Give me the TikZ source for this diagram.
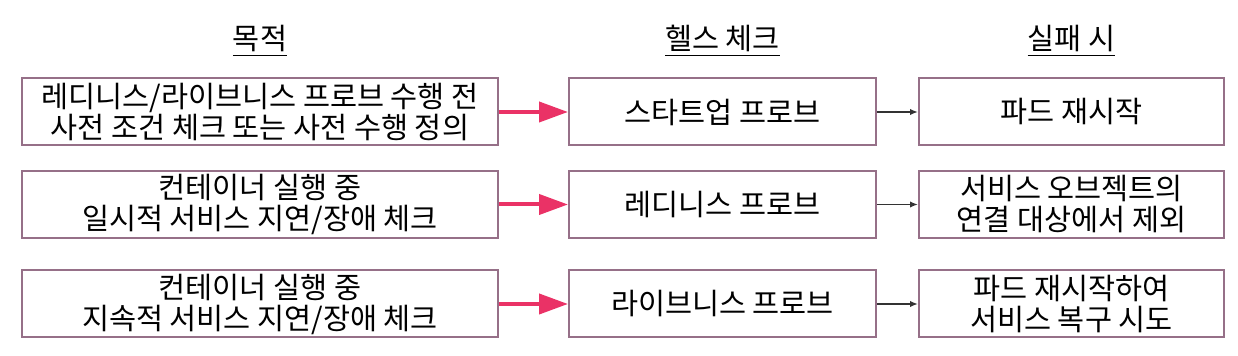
\documentclass[tikz,border=0pt]{standalone}
\usepackage{fontspec}
\setmainfont{Noto Sans CJK KR}
\usetikzlibrary{arrows.meta}
\definecolor{boxline}{RGB}{150,112,136}
\definecolor{probepink}{RGB}{234,50,102}

\begin{document}
\begin{tikzpicture}[x=0.5pt,y=-0.5pt,>=Stealth,
  box/.style={draw=boxline,line width=1pt,inner sep=0pt,minimum height=33.5pt,
    align=center,font=\fontsize{14.7}{15.5}\selectfont},
  head/.style={anchor=base,inner sep=0pt,font=\fontsize{14.7}{15.5}\selectfont},
  bigarrow/.style={probepink,line width=2pt,-{Triangle[length=14.5pt,width=10pt]}},
  smallarrow/.style={black!80,line width=0.9pt,-{Latex[length=4pt,width=3.2pt]}}]
  % canvas: 1238 x 356 px, y grows downward
  \useasboundingbox (0,0) rectangle (1238,356);
  % column headers
  \node[head] (hgoal)  at (260,50)    {\underline{목적}};
  \node[head] (hcheck) at (722.5,50)  {\underline{헬스 체크}};
  \node[head] (hfail)  at (1071.5,50) {\underline{실패 시}};
  % purpose column
  \node[box,minimum width=238pt] (goal1) at (260,112)
    {레디니스/라이브니스 프로브 수행 전\\사전 조건 체크 또는 사전 수행 정의};
  \node[box,minimum width=238pt] (goal2) at (260,204.5)
    {컨테이너 실행 중\\일시적 서비스 지연/장애 체크};
  \node[box,minimum width=238pt] (goal3) at (260,304)
    {컨테이너 실행 중\\지속적 서비스 지연/장애 체크};
  % probe column
  \node[box,minimum width=153.5pt] (probe1) at (722.5,112)   {스타트업 프로브};
  \node[box,minimum width=153.5pt] (probe2) at (722.5,204.5) {레디니스 프로브};
  \node[box,minimum width=153.5pt] (probe3) at (722.5,304)   {라이브니스 프로브};
  % on failure column
  \node[box,minimum width=152.5pt] (fail1) at (1071.5,112)   {파드 재시작};
  \node[box,minimum width=152.5pt] (fail2) at (1071.5,204.5) {서비스 오브젝트의\\연결 대상에서 제외};
  \node[box,minimum width=152.5pt] (fail3) at (1071.5,304)   {파드 재시작하여\\서비스 복구 시도};
  % connectors
  \foreach \i in {1,2,3} {
    \draw[bigarrow] (goal\i) -- (probe\i);
    \draw[smallarrow] (probe\i) -- (fail\i);
  }
\end{tikzpicture}
\end{document}
